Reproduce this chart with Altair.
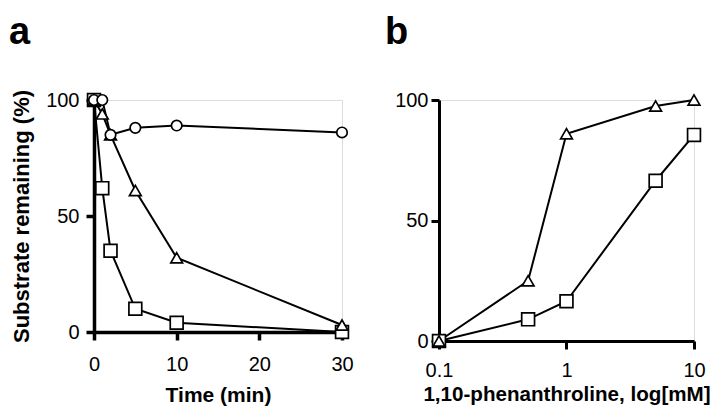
import altair as alt
import pandas as pd

# ---- data ----
time_min = [0, 1, 2, 5, 10, 30]
circle_a = [100, 100, 85, 88, 89, 86]
triangle_a = [100, 94, 85, 61, 32, 3]
square_a = [100, 62, 35, 10, 4, 0]

conc_mM = [0.1, 0.5, 1, 5, 10]
triangle_b = [0, 25, 86, 97.5, 100]
square_b = [0, 9, 16.5, 66.5, 85.5]

x_ticks_a = [0, 10, 20, 30]
y_ticks = [0, 50, 100]
x_ticks_b = [0.1, 1, 10]

FONT = "Liberation Sans"


def long_table(x, series):
    rows = []
    for name, vals in series:
        for xv, yv in zip(x, vals):
            rows.append({"x": xv, "y": yv, "s": name})
    return pd.DataFrame(rows)


df_a = long_table(time_min, [("square", square_a), ("triangle", triangle_a), ("circle", circle_a)])
df_b = long_table(conc_mM, [("square", square_b), ("triangle", triangle_b)])

shape_scale = alt.Scale(domain=["circle", "triangle", "square"],
                        range=["circle", "triangle-up", "square"])
size_scale = alt.Scale(domain=["circle", "triangle", "square"], range=[110, 165, 150])


def axis_style(width, title_size):
    return dict(grid=False, domainColor="black", tickColor="black", domainWidth=width,
                tickWidth=width, tickSize=8, labelFont=FONT, labelFontSize=20,
                labelColor="black", titleFont=FONT, titleFontSize=title_size,
                titleFontWeight="bold", titleColor="black", labelFlush=False,
                labelOverlap=False)


def panel(df, xenc, yenc, letter, letter_x, w, h):
    lines = alt.Chart(df).mark_line(color="black", strokeWidth=2).encode(
        x=xenc, y=yenc, detail="s:N")
    pts = alt.Chart(df).mark_point(filled=True, fill="white", stroke="black",
                                   strokeWidth=1.7, opacity=1).encode(
        x=xenc, y=yenc,
        shape=alt.Shape("s:N", scale=shape_scale, legend=None),
        size=alt.Size("s:N", scale=size_scale, legend=None))
    lab = alt.Chart(pd.DataFrame({"t": [letter]})).mark_text(
        font=FONT, fontSize=38, fontWeight="bold", align="left",
        baseline="alphabetic", color="black").encode(
        text="t:N", x=alt.value(letter_x), y=alt.value(-56))
    return alt.layer(lines, pts, lab).properties(width=w, height=h)


xa = alt.X("x:Q", scale=alt.Scale(domain=[0, 30], nice=False, zero=False),
           axis=alt.Axis(values=x_ticks_a, title="Time (min)", labelPadding=14,
                         titlePadding=10, **axis_style(3.5, 21)))
ya = alt.Y("y:Q", scale=alt.Scale(domain=[0, 100], nice=False),
           axis=alt.Axis(values=y_ticks, title="Substrate remaining (%)",
                         labelPadding=7, titlePadding=12, **axis_style(3.5, 22)))

xb = alt.X("x:Q", scale=alt.Scale(type="log", domain=[0.1, 10], nice=False),
           axis=alt.Axis(values=x_ticks_b, format="~g",
                         title="1,10-phenanthroline, log[mM]", labelPadding=11,
                         titlePadding=4, **axis_style(3, 20.6)))
yb = alt.Y("y:Q", scale=alt.Scale(domain=[0, 100], nice=False),
           axis=alt.Axis(values=y_ticks, title=None, labelPadding=3, **axis_style(3, 20.6)))

panel_a = panel(df_a, xa, ya, "a", -85, 248, 232)
panel_b = panel(df_b, xb, yb, "b", -54, 255, 241)

chart = alt.hconcat(panel_a, panel_b, spacing=30).properties(
    padding={"left": 0, "top": 5, "right": 0, "bottom": 0}
).configure_view(stroke=None).configure(background="white")

chart.save("out.html", embed_options={"renderer": "svg", "actions": False})
